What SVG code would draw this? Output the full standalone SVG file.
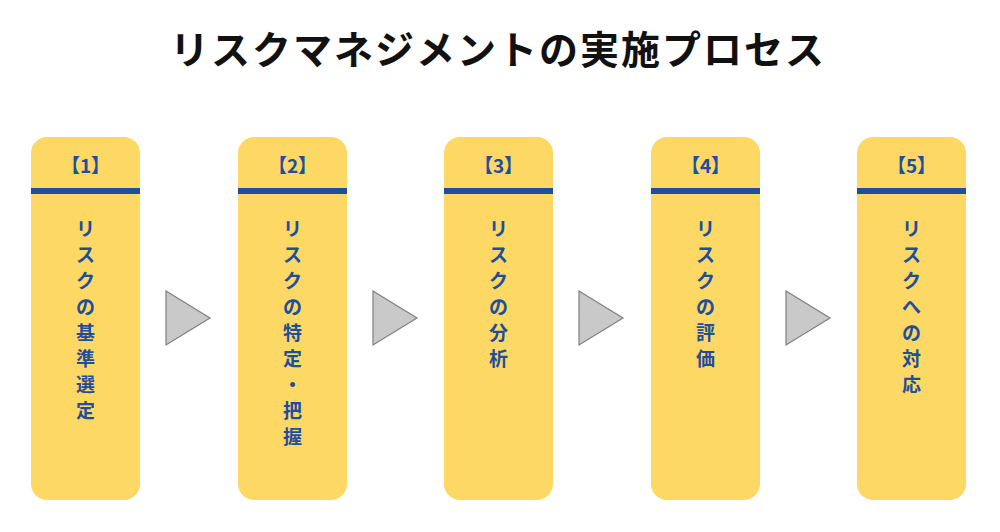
<svg xmlns="http://www.w3.org/2000/svg" width="1000" height="532" viewBox="0 0 1000 532">
<style>
.box{fill:#fdd865}
.bar{fill:#1f4e9c}
.t{font-family:"Noto Sans CJK JP","Noto Sans",sans-serif;font-weight:bold;fill:#1f4e9c;font-size:19px;text-anchor:middle}
.tri{fill:#c9c9c9;stroke:#7f7f7f;stroke-width:1.2}
</style>
<rect width="1000" height="532" fill="#fff"/>
<text x="498" y="64" font-family="'Noto Sans CJK JP',sans-serif" font-weight="bold" font-size="39" letter-spacing="2" text-anchor="middle" fill="#111">リスクマネジメントの実施プロセス</text>
<g id="n1"><rect class="box" x="31" y="137" width="109" height="363" rx="16"/><rect class="bar" x="31" y="188" width="109" height="6"/><text class="t" x="85.5" y="173">【1】</text>
<text class="t"><tspan x="85.5" y="236">リ</tspan><tspan x="85.5" y="262">ス</tspan><tspan x="85.5" y="288">ク</tspan><tspan x="85.5" y="314">の</tspan><tspan x="85.5" y="340">基</tspan><tspan x="85.5" y="366">準</tspan><tspan x="85.5" y="392">選</tspan><tspan x="85.5" y="418">定</tspan></text></g>
<g id="n2"><rect class="box" x="238" y="137" width="109" height="363" rx="16"/><rect class="bar" x="238" y="188" width="109" height="6"/><text class="t" x="292.5" y="173">【2】</text>
<text class="t"><tspan x="292.5" y="236">リ</tspan><tspan x="292.5" y="262">ス</tspan><tspan x="292.5" y="288">ク</tspan><tspan x="292.5" y="314">の</tspan><tspan x="292.5" y="340">特</tspan><tspan x="292.5" y="366">定</tspan><tspan x="292.5" y="392">・</tspan><tspan x="292.5" y="418">把</tspan><tspan x="292.5" y="444">握</tspan></text></g>
<g id="n3"><rect class="box" x="444" y="137" width="109" height="363" rx="16"/><rect class="bar" x="444" y="188" width="109" height="6"/><text class="t" x="498.5" y="173">【3】</text>
<text class="t"><tspan x="498.5" y="236">リ</tspan><tspan x="498.5" y="262">ス</tspan><tspan x="498.5" y="288">ク</tspan><tspan x="498.5" y="314">の</tspan><tspan x="498.5" y="340">分</tspan><tspan x="498.5" y="366">析</tspan></text></g>
<g id="n4"><rect class="box" x="651" y="137" width="109" height="363" rx="16"/><rect class="bar" x="651" y="188" width="109" height="6"/><text class="t" x="705.5" y="173">【4】</text>
<text class="t"><tspan x="705.5" y="236">リ</tspan><tspan x="705.5" y="262">ス</tspan><tspan x="705.5" y="288">ク</tspan><tspan x="705.5" y="314">の</tspan><tspan x="705.5" y="340">評</tspan><tspan x="705.5" y="366">価</tspan></text></g>
<g id="n5"><rect class="box" x="857" y="137" width="109" height="363" rx="16"/><rect class="bar" x="857" y="188" width="109" height="6"/><text class="t" x="911.5" y="173">【5】</text>
<text class="t"><tspan x="911.5" y="236">リ</tspan><tspan x="911.5" y="262">ス</tspan><tspan x="911.5" y="288">ク</tspan><tspan x="911.5" y="314">へ</tspan><tspan x="911.5" y="340">の</tspan><tspan x="911.5" y="366">対</tspan><tspan x="911.5" y="392">応</tspan></text></g>
<g id="connectors">
<polygon class="tri" points="166,291 210,318 166,345"/>
<polygon class="tri" points="373,291 417,318 373,345"/>
<polygon class="tri" points="579,291 623,318 579,345"/>
<polygon class="tri" points="786,291 830,318 786,345"/>
</g>
</svg>
